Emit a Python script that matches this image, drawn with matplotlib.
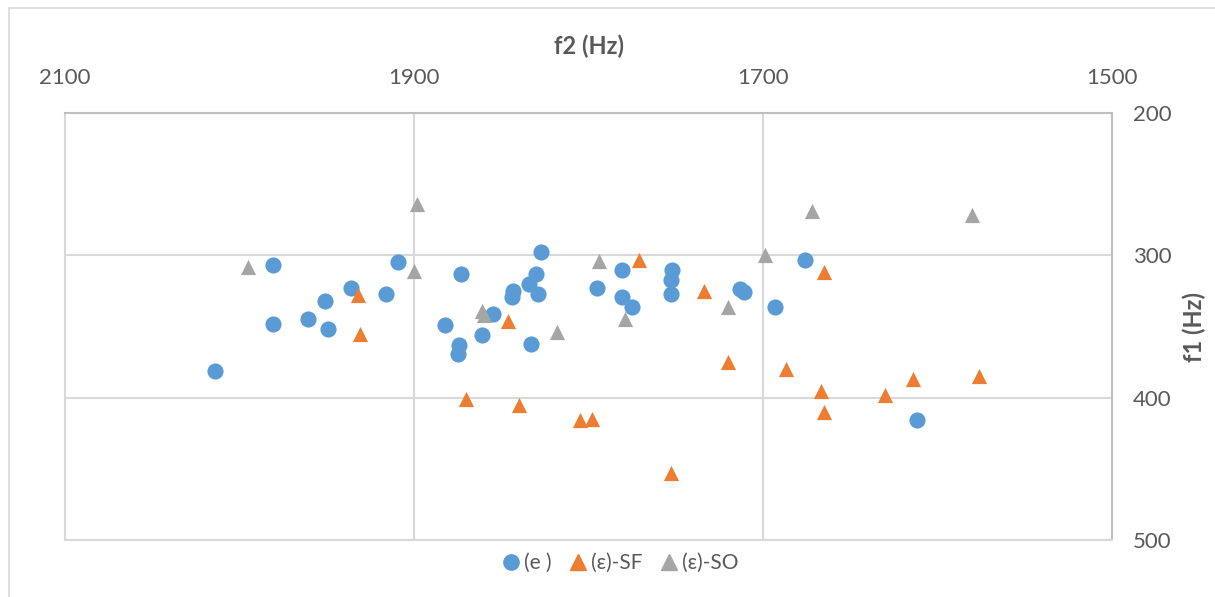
import matplotlib
matplotlib.use("Agg")
import matplotlib.pyplot as plt
from matplotlib.lines import Line2D

plt.rcParams['font.family'] = ['Lato', 'DejaVu Sans']

# formant measurements (f2, f1) in Hz
e_f2 = [1981, 1909, 1873, 1936, 1916, 1951, 1981, 1961, 1949, 1882, 1874, 1875,
        2014, 1827, 1830, 1834, 1843, 1844, 1829, 1855, 1861, 1833, 1781, 1795,
        1781, 1775, 1752, 1753, 1753, 1676, 1713, 1711, 1693, 1612]
e_f1 = [307, 305, 313, 323, 327, 332, 348, 345, 352, 349, 363, 369,
        381, 298, 313, 320, 325, 329, 327, 341, 356, 362, 310, 323,
        329, 336, 310, 317, 327, 303, 324, 326, 336, 416]

sf_f2 = [1932, 1931, 1870, 1846, 1840, 1805, 1798, 1771, 1734, 1720, 1687, 1753,
         1665, 1667, 1665, 1630, 1614, 1576]
sf_f1 = [328, 355, 401, 346, 405, 416, 415, 303, 325, 375, 380, 453,
         312, 395, 410, 398, 387, 385]

so_f2 = [1898, 1995, 1900, 1861, 1860, 1794, 1818, 1779, 1699, 1720, 1672, 1580]
so_f1 = [264, 308, 311, 339, 342, 304, 354, 345, 300, 336, 269, 272]

labels = ['(e )', '(ε)-SF', '(ε)-SO']
colors = ['#5b9bd5', '#ed7d31', '#a5a5a5']
x_ticks = [2100, 1900, 1700, 1500]
y_ticks = [200, 300, 400, 500]

text_col = '#595959'
grid_col = '#d9d9d9'

fig = plt.figure(figsize=(12.15, 5.97), dpi=100)
ax = fig.add_axes([65 / 1215, 1 - 540 / 597, 1047 / 1215, 427 / 597])

ax.scatter(e_f2, e_f1, s=135, marker='o', color=colors[0], linewidths=0, zorder=3)
ax.scatter(sf_f2, sf_f1, s=120, marker='^', color=colors[1], linewidths=0, zorder=3)
ax.scatter(so_f2, so_f1, s=120, marker='^', color=colors[2], linewidths=0, zorder=3)

ax.set_xlim(2100, 1500)
ax.set_ylim(500, 200)
ax.set_xticks(x_ticks)
ax.set_yticks(y_ticks)

ax.xaxis.tick_top()
ax.xaxis.set_label_position('top')
ax.yaxis.tick_right()
ax.yaxis.set_label_position('right')
ax.tick_params(axis='x', length=0, pad=18, labelsize=16, labelcolor=text_col)
ax.tick_params(axis='y', length=0, pad=15, labelsize=16, labelcolor=text_col)

ax.set_xlabel('f2 (Hz)', fontsize=17, fontweight='bold', color=text_col, labelpad=10)
ax.set_ylabel('f1 (Hz)', fontsize=17, fontweight='bold', color=text_col,
              rotation=90, labelpad=8)

ax.grid(True, color=grid_col, linewidth=1.5, zorder=0)
ax.set_axisbelow(True)
for side in ['left', 'bottom']:
    ax.spines[side].set_color(grid_col)
    ax.spines[side].set_linewidth(1.5)
for side in ['top', 'right']:
    ax.spines[side].set_color('#bfbfbf')
    ax.spines[side].set_linewidth(1.5)

handles = [
    Line2D([], [], marker='o', linestyle='', color=colors[0], markersize=11),
    Line2D([], [], marker='^', linestyle='', color=colors[1], markersize=11),
    Line2D([], [], marker='^', linestyle='', color=colors[2], markersize=11),
]
fig.legend(handles, labels, loc='center', bbox_to_anchor=(620 / 1215, 1 - 563 / 597),
           ncol=3, frameon=False, fontsize=15, labelcolor=text_col,
           handletextpad=0.2, columnspacing=0.8, handlelength=0.9)

# outer chart border (left and top edges)
fig.add_artist(Line2D([9 / 1215, 9 / 1215], [0, 1 - 8 / 597], color='#d9d9d9',
                      linewidth=1.2, transform=fig.transFigure))
fig.add_artist(Line2D([9 / 1215, 1], [1 - 8 / 597, 1 - 8 / 597], color='#d9d9d9',
                      linewidth=1.2, transform=fig.transFigure))

fig.savefig('out.png', dpi=100, facecolor='white')
